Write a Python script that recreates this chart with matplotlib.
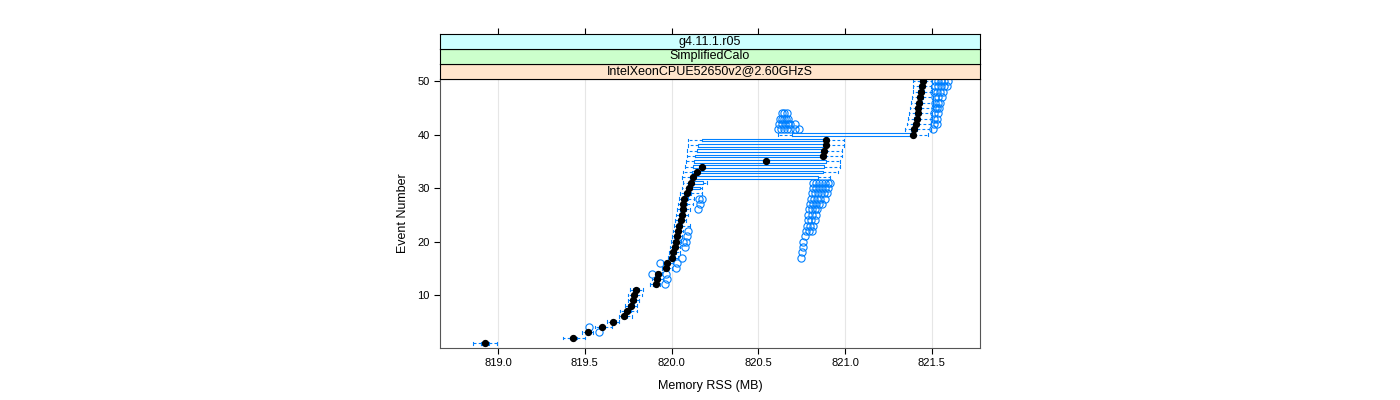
#!/usr/bin/env python3
"""Per-event memory RSS box plot in the style of a lattice bwplot."""

import matplotlib as mpl

mpl.use("Agg")
import matplotlib.pyplot as plt

plt.rcParams["font.family"] = ["Liberation Sans", "DejaVu Sans"]

events = list(range(1, 51))

whislo = [
    818.856, 819.374, 819.482, 819.559, 819.628, 819.697, 819.703, 819.733, 819.751, 819.751,
    819.760, 819.876, 819.885, 819.910, 819.943, 819.950, 819.979, 819.985, 819.991, 819.997,
    820.002, 820.008, 820.014, 820.020, 820.025, 820.031, 820.037, 820.043, 820.048, 820.058,
    820.066, 820.058, 820.067, 820.077, 820.083, 820.087, 820.089, 820.094, 820.094, 820.613,
    821.344, 821.356, 821.362, 821.368, 821.373, 821.379, 821.385, 821.391, 821.391, 821.392,
]
q1 = [
    818.902, 819.415, 819.507, 819.582, 819.651, 819.714, 819.726, 819.749, 819.766, 819.772,
    819.778, 819.893, 819.904, 819.916, 819.956, 819.968, 819.991, 819.997, 820.002, 820.008,
    820.014, 820.025, 820.031, 820.037, 820.043, 820.048, 820.054, 820.060, 820.071, 820.096,
    820.100, 820.106, 820.116, 820.125, 820.129, 820.135, 820.145, 820.154, 820.173, 820.692,
    821.379, 821.391, 821.396, 821.402, 821.408, 821.414, 821.419, 821.422, 821.425, 821.431,
]
median = [
    818.925, 819.434, 819.520, 819.597, 819.664, 819.726, 819.745, 819.766, 819.779, 819.785,
    819.795, 819.908, 819.918, 819.923, 819.966, 819.975, 820.004, 820.010, 820.018, 820.024,
    820.029, 820.039, 820.044, 820.052, 820.062, 820.064, 820.067, 820.073, 820.087, 820.102,
    820.112, 820.125, 820.148, 820.177, 820.542, 820.870, 820.878, 820.888, 820.889, 821.392,
    821.398, 821.406, 821.412, 821.418, 821.421, 821.427, 821.431, 821.437, 821.441, 821.446,
]
q3 = [
    818.948, 819.455, 819.530, 819.616, 819.680, 819.743, 819.766, 819.783, 819.795, 819.801,
    819.812, 819.916, 819.933, 819.933, 819.979, 819.991, 820.020, 820.025, 820.031, 820.037,
    820.043, 820.048, 820.060, 820.066, 820.077, 820.083, 820.089, 820.094, 820.112, 820.164,
    820.183, 820.843, 820.874, 820.878, 820.888, 820.884, 820.889, 820.895, 820.898, 821.396,
    821.414, 821.419, 821.425, 821.431, 821.437, 821.442, 821.448, 821.454, 821.454, 821.460,
]
whishi = [
    818.994, 819.501, 819.547, 819.655, 819.697, 819.770, 819.799, 819.802, 819.812, 819.828,
    819.837, 819.933, 819.950, 819.945, 820.001, 820.008, 820.037, 820.048, 820.048, 820.054,
    820.060, 820.066, 820.106, 820.083, 820.094, 820.106, 820.125, 820.129, 820.173, 820.177,
    820.206, 820.912, 820.960, 820.970, 820.970, 820.980, 820.980, 820.993, 820.993, 821.479,
    821.494, 821.494, 821.500, 821.500, 821.506, 821.506, 821.506, 821.500, 821.494, 821.498,
]
outliers = {
    3: [819.582],
    4: [819.524],
    12: [819.962],
    13: [819.972],
    14: [819.887, 819.968],
    15: [820.024],
    16: [819.933, 820.029],
    17: [820.062, 820.745],
    18: [820.749],
    19: [820.077, 820.755],
    20: [820.066, 820.081, 820.759],
    21: [820.090, 820.768],
    22: [820.093, 820.774, 820.791, 820.807],
    23: [820.778, 820.797, 820.816],
    24: [820.784, 820.803, 820.826],
    25: [820.786, 820.809, 820.832],
    26: [820.154, 820.791, 820.809, 820.826, 820.838],
    27: [820.164, 820.797, 820.815, 820.832, 820.849, 820.866],
    28: [820.160, 820.173, 820.803, 820.820, 820.838, 820.855, 820.884],
    29: [820.809, 820.826, 820.843, 820.860, 820.878, 820.895],
    30: [820.815, 820.832, 820.849, 820.866, 820.884, 820.901],
    31: [820.815, 820.832, 820.849, 820.866, 820.884, 820.901, 820.912],
    41: [820.613, 820.630, 820.647, 820.665, 820.682, 820.711, 820.734, 821.506],
    42: [820.619, 820.636, 820.653, 820.668, 820.682, 820.711, 821.512, 821.529],
    43: [820.624, 820.636, 820.647, 820.660, 820.671, 821.512, 821.529],
    44: [820.636, 820.650, 820.665, 821.512, 821.535],
    45: [821.517, 821.529, 821.540],
    46: [821.517, 821.535, 821.546],
    47: [821.517, 821.535, 821.556],
    48: [821.512, 821.529, 821.546, 821.565],
    49: [821.517, 821.535, 821.552, 821.569, 821.585],
    50: [821.517, 821.535, 821.552, 821.569, 821.594],
}

strip_labels = ["IntelXeonCPUE52650v2@2.60GHzS", "SimplifiedCalo", "g4.11.1.r05"]
strip_colors = ["#ffe5cc", "#ccffcc", "#ccffff"]
x_ticks = [819.0, 819.5, 820.0, 820.5, 821.0, 821.5]
y_ticks = [10, 20, 30, 40, 50]

BLUE = "#0080ff"
W, H = 1400, 400


def rect(x0, y0, x1, y1):
    """Pixel box (top-left origin) to figure fraction."""
    return [x0 / W, 1 - y1 / H, (x1 - x0) / W, (y1 - y0) / H]


fig = plt.figure(figsize=(14, 4), dpi=100)
ax = fig.add_axes(rect(440, 79, 980, 348))

stats = []
for i, ev in enumerate(events):
    stats.append({
        "whislo": whislo[i],
        "q1": q1[i],
        "med": median[i],
        "q3": q3[i],
        "whishi": whishi[i],
        "fliers": outliers.get(ev, []),
    })

ax.bxp(
    stats,
    positions=events,
    widths=0.5,
    capwidths=0.5,
    orientation="horizontal",
    manage_ticks=False,
    boxprops=dict(color=BLUE, linewidth=0.8),
    whiskerprops=dict(color=BLUE, linewidth=0.8, linestyle=(0, (2.5, 2))),
    capprops=dict(color=BLUE, linewidth=0.8),
    medianprops=dict(linewidth=0),
    flierprops=dict(marker="o", markerfacecolor="none", markeredgecolor=BLUE,
                    markersize=5.2, markeredgewidth=0.8),
)
ax.scatter(median, events, s=18, color="black", zorder=5)

ax.set_xlim(818.666, 821.777)
ax.set_ylim(0.1, 50.4)
ax.set_xticks(x_ticks)
ax.set_xticklabels([f"{v:.1f}" for v in x_ticks])
ax.set_yticks(y_ticks)
ax.tick_params(direction="out", length=4, labelsize=8, width=0.8)
ax.set_axisbelow(True)
ax.xaxis.grid(True, color="#e6e6e6", linewidth=0.8)
for spine in ax.spines.values():
    spine.set_color("#555555")
ax.set_xlabel("Memory RSS (MB)", fontsize=9, labelpad=8)
ax.set_ylabel("Event Number", fontsize=9, labelpad=6)

strip_rows = [(64, 79), (49, 64), (34, 49)]
for (y0, y1), label, color in zip(strip_rows, strip_labels, strip_colors):
    sax = fig.add_axes(rect(440, y0, 980, y1), sharex=ax)
    sax.set_facecolor(color)
    sax.text(0.5, 0.5, label, transform=sax.transAxes, ha="center", va="center",
             fontsize=9)
    sax.set_yticks([])
    sax.tick_params(bottom=False, labelbottom=False, direction="out", length=4,
                    width=0.8)
    if y0 == 34:
        sax.tick_params(top=True, labeltop=False)
    for spine in sax.spines.values():
        spine.set_linewidth(0.8)

fig.savefig("out.png", dpi=100)
plt.close(fig)
